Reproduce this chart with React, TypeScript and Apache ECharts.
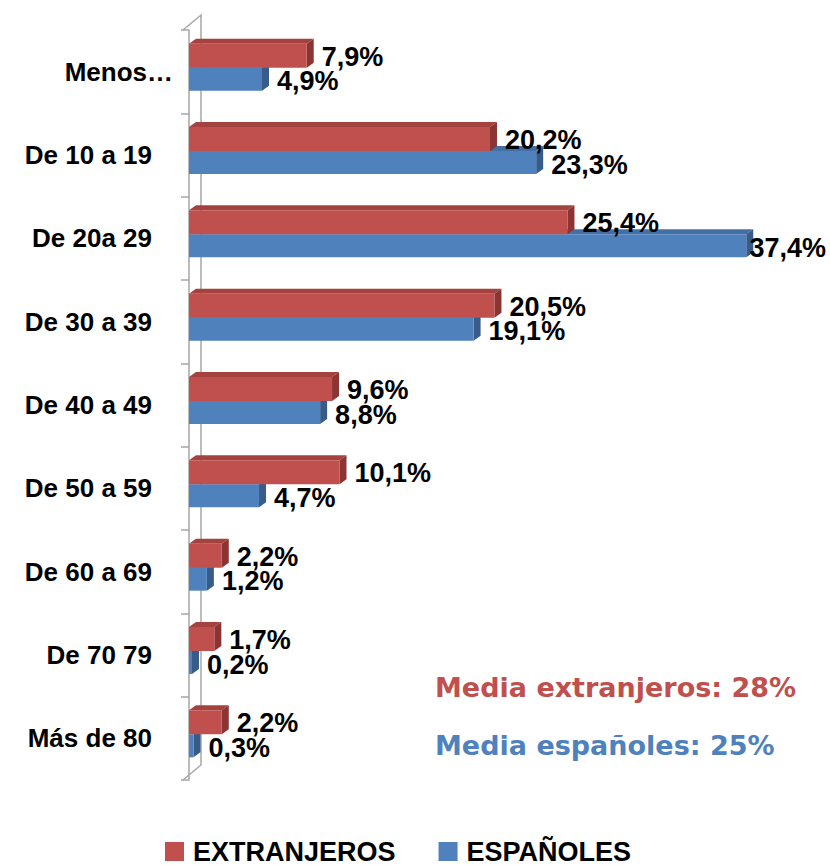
import React, { useEffect, useRef } from "react";
import * as echarts from "echarts";

const categories = [
  "Menos…",
  "De 10 a 19",
  "De 20a 29",
  "De 30 a 39",
  "De 40 a 49",
  "De 50 a 59",
  "De 60 a 69",
  "De 70 79",
  "Más de 80",
];
const extranjeros = [7.9, 20.2, 25.4, 20.5, 9.6, 10.1, 2.2, 1.7, 2.2];
const espanoles = [4.9, 23.3, 37.4, 19.1, 8.8, 4.7, 1.2, 0.2, 0.3];
const seriesNames = ["EXTRANJEROS", "ESPAÑOLES"];
const mediaTexts = ["Media extranjeros: 28%", "Media españoles: 25%"];

const W = 830;
const H = 865;

const RED = { front: "#C0504D", top: "#A4423F", side: "#8C3431" };
const BLUE = { front: "#4F81BD", top: "#436FA4", side: "#375C8A" };

const fmt = (v: number) => v.toFixed(1).replace(".", ",") + "%";

function makeRender(kind: "red" | "blue") {
  const c = kind === "red" ? RED : BLUE;
  return (params: any, api: any) => {
    const v = api.value(0);
    const i = api.value(1);
    const p1 = api.coord([v, i]);
    const p0 = api.coord([0, i]);
    const x0 = p0[0];
    const x1 = p1[0];
    const yc = p1[1];
    const top = kind === "red" ? yc - 28 : yc - 4;
    const bot = kind === "red" ? yc - 4 : yc + 19;
    const dx = 7;
    const dy = -5;
    const text = fmt(v);
    let lx = x1 + 15;
    let align = "left";
    if (lx + 80 > W - 4) {
      lx = W - 4;
      align = "right";
    }
    const ly = (top + bot) / 2 + (kind === "red" ? 1 : 2);
    return {
      type: "group",
      children: [
        {
          type: "polygon",
          shape: { points: [[x0, top], [x0 + dx, top + dy], [x1 + dx, top + dy], [x1, top]] },
          style: { fill: c.top },
        },
        {
          type: "polygon",
          shape: { points: [[x1, top], [x1 + dx, top + dy], [x1 + dx, bot + dy], [x1, bot]] },
          style: { fill: c.side },
        },
        {
          type: "rect",
          shape: { x: x0, y: top, width: Math.max(x1 - x0, 0.5), height: bot - top },
          style: { fill: c.front },
        },
        {
          type: "text",
          z2: 10,
          style: {
            text,
            x: lx,
            y: ly,
            align,
            verticalAlign: "middle",
            fill: "#000",
            fontSize: 27,
            fontWeight: "bold",
            fontFamily: "Liberation Sans",
          },
        },
      ],
    };
  };
}

export default function App() {
  const ref = useRef<HTMLDivElement>(null);
  useEffect(() => {
    if (!ref.current) return;
    const chart = echarts.init(ref.current, undefined, { renderer: "svg" });
    const axisColor = "#A6A6A6";
    chart.setOption({
      animation: false,
      backgroundColor: "#fff",
      grid: { left: 189, right: 45, top: 30, bottom: 85 },
      xAxis: { type: "value", min: 0, max: 40, show: false },
      yAxis: [
        {
          type: "category",
          data: categories,
          inverse: true,
          position: "left",
          offset: 6,
          axisLine: { show: true, lineStyle: { color: axisColor, width: 1.5 } },
          axisTick: { show: true, length: 8, lineStyle: { color: axisColor, width: 1.5 } },
          axisLabel: {
            margin: 31,
            color: "#000",
            fontSize: 26,
            fontWeight: "bold",
            fontFamily: "Liberation Sans",
            formatter: (val: string, idx: number) => (idx === 0 ? "" : val),
          },
          splitLine: { show: false },
        },
        {
          type: "category",
          data: categories,
          inverse: true,
          position: "left",
          offset: 6,
          axisLine: { show: false },
          axisTick: { show: false },
          axisLabel: {
            margin: 10,
            color: "#000",
            fontSize: 26,
            fontWeight: "bold",
            fontFamily: "Liberation Sans",
            formatter: (val: string, idx: number) => (idx === 0 ? val : ""),
          },
          splitLine: { show: false },
        },
      ],
      legend: {
        data: [
          { name: seriesNames[0], icon: "rect" },
          { name: seriesNames[1], icon: "rect" },
        ],
        left: 165,
        top: 838,
        padding: 0,
        itemWidth: 19,
        itemHeight: 19,
        itemGap: 43,
        textStyle: {
          color: "#000",
          fontSize: 27,
          fontWeight: "bold",
          fontFamily: "Liberation Sans",
          padding: [0, 0, 0, 4],
        },
      },
      graphic: [
        {
          type: "polyline",
          z: 0,
          shape: { points: [[183, 30], [201, 15], [201, 765], [183, 780]] },
          style: { stroke: axisColor, lineWidth: 1.5, fill: "none" },
        },
        {
          type: "text",
          left: 435,
          top: 674,
          style: {
            text: mediaTexts[0],
            fill: "#C0504D",
            fontSize: 27,
            fontWeight: "bold",
            fontFamily: "DejaVu Sans",
          },
        },
        {
          type: "text",
          left: 435,
          top: 732,
          style: {
            text: mediaTexts[1],
            fill: "#4F81BD",
            fontSize: 27,
            fontWeight: "bold",
            fontFamily: "DejaVu Sans",
          },
        },
      ],
      series: [
        {
          name: seriesNames[1],
          type: "custom",
          z: 2,
          itemStyle: { color: BLUE.front },
          encode: { x: 0, y: 1 },
          data: espanoles.map((v, i) => [v, i]),
          renderItem: makeRender("blue"),
        },
        {
          name: seriesNames[0],
          type: "custom",
          z: 3,
          itemStyle: { color: RED.front },
          encode: { x: 0, y: 1 },
          data: extranjeros.map((v, i) => [v, i]),
          renderItem: makeRender("red"),
        },
      ],
    });
    return () => chart.dispose();
  }, []);
  return (
    <div
      ref={ref}
      style={{ position: "fixed", left: 0, top: 0, width: W, height: H }}
    />
  );
}
